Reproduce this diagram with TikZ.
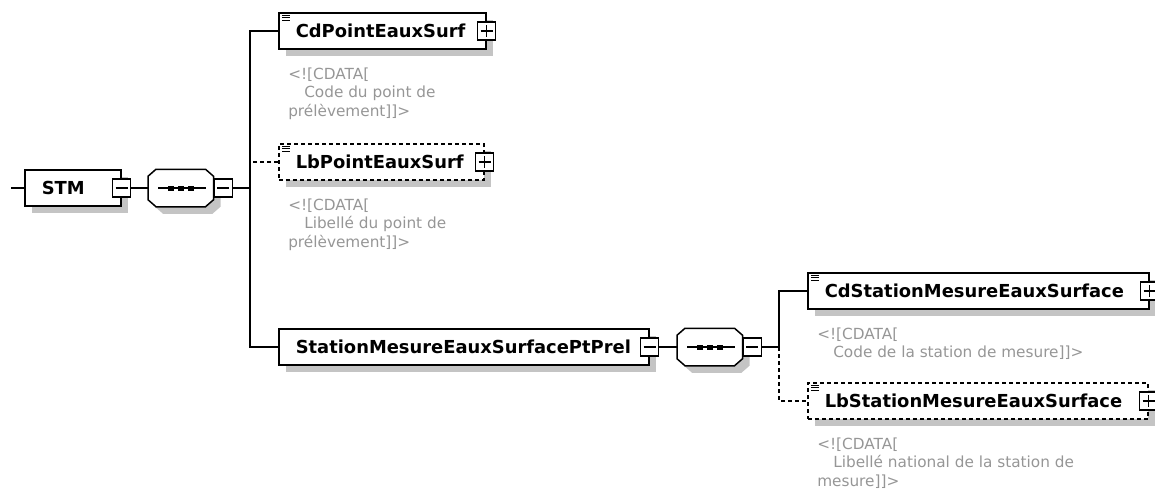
\documentclass[tikz,border=0pt]{standalone}
\usepackage{fontspec}
\setmainfont{DejaVu Sans}
\usetikzlibrary{calc, shadows}

\definecolor{notegray}{RGB}{150,150,150}
\definecolor{shadowgray}{RGB}{196,196,196}

\begin{document}
\begin{tikzpicture}[x=1pt, y=-1pt, line width=1.5pt,
  elem/.style={draw, fill=white, anchor=west, minimum height=36pt, inner xsep=17pt, inner ysep=0pt, align=left,
    font=\fontsize{17.9}{20}\selectfont\bfseries,
    drop shadow={shadow xshift=7pt, shadow yshift=-7pt, fill=shadowgray, opacity=1}},
  optelem/.style={elem, dash pattern=on 4pt off 3pt},
  note/.style={anchor=north west, inner sep=0pt, align=left, text=notegray, font=\fontsize{15.3}{18.5}\selectfont},
  seq/.style={anchor=west, minimum width=64pt, minimum height=36pt, inner sep=0pt},
  oct/.style={insert path={([xshift=8pt]#1.north west) -- ([xshift=-8pt]#1.north east) -- ([yshift=-7pt]#1.north east)
    -- ([yshift=7pt]#1.south east) -- ([xshift=-8pt]#1.south east) -- ([xshift=8pt]#1.south west)
    -- ([yshift=7pt]#1.south west) -- ([yshift=-7pt]#1.north west) -- cycle}},
  boxbase/.style={draw, fill=white, minimum width=18pt, minimum height=18pt, inner sep=0pt, line width=1.3pt},
  minusbox/.style={boxbase,
    path picture={\draw ([xshift=3pt]path picture bounding box.west) -- ([xshift=-3pt]path picture bounding box.east);}},
  plusbox/.style={boxbase,
    path picture={\draw ([xshift=3pt]path picture bounding box.west) -- ([xshift=-3pt]path picture bounding box.east);
      \draw ([yshift=-3pt]path picture bounding box.north) -- ([yshift=3pt]path picture bounding box.south);}}]
\useasboundingbox (0,0) rectangle (1155,490);

% elements
\node[elem, text width=62pt] (stm) at (24,188) {STM};
\node[elem, text width=173pt] (cdpt) at (278,31) {CdPointEauxSurf};
\node[optelem, text width=171pt] (lbpt) at (278,162) {LbPointEauxSurf};
\node[elem, text width=336pt] (station) at (278,347) {StationMesureEauxSurfacePtPrel};
\node[elem, text width=307pt] (cdst) at (807,291) {CdStationMesureEauxSurface};
\node[optelem, text width=306pt] (lbst) at (807,401) {LbStationMesureEauxSurface};

% sequences
\node[seq] (seqa) at (148,188) {};
\node[seq] (seqb) at (677,347) {};
\foreach \s in {seqa, seqb} {
  \fill[shadowgray, transform canvas={xshift=7pt, yshift=-7pt}, oct=\s];
  \draw[fill=white, oct=\s];
  \draw ([xshift=10pt]\s.west) -- ([xshift=-8pt]\s.east);
  \foreach \d in {-10,0,10}
    \fill ([shift={(\d-3,-2.5)}]\s.center) rectangle ++(6,5);
}

% expand boxes
\node[minusbox] (stmminus) at (stm.east) {};
\node[minusbox] (stationminus) at (station.east) {};
\node[minusbox, anchor=west] (seqaminus) at (seqa.east) {};
\node[minusbox, anchor=west] (seqbminus) at (seqb.east) {};
\node[plusbox] (cdptplus) at (cdpt.east) {};
\node[plusbox] (lbptplus) at (lbpt.east) {};
\node[plusbox] (cdstplus) at (cdst.east) {};
\node[plusbox] (lbstplus) at (lbst.east) {};

% doc icons
\foreach \e in {cdpt, lbpt, cdst, lbst}
  \foreach \k in {0,1,2}
    \draw[line width=1pt] ([shift={(4,3+2.5*\k)}]\e.north west) -- ++(8,0);

% annotations
\node[note] (cdptnote) at ([shift={(9.5,17)}]cdpt.south west) {<![CDATA[\\\hspace*{16pt}Code du point de\\prélèvement]]>};
\node[note] (lbptnote) at ([shift={(9.5,17)}]lbpt.south west) {<![CDATA[\\\hspace*{16pt}Libellé du point de\\prélèvement]]>};
\node[note] (cdstnote) at ([shift={(9.5,17)}]cdst.south west) {<![CDATA[\\\hspace*{16pt}Code de la station de mesure]]>};
\node[note] (lbstnote) at ([shift={(9.5,17)}]lbst.south west) {<![CDATA[\\\hspace*{16pt}Libellé national de la station de\\mesure]]>};

% connectors
\coordinate (stmin) at (11,188);
\coordinate (ja) at (250,188);
\coordinate (jb) at (779,347);
\draw (stmin) -- (stm.west);
\draw (stmminus.east) -- (seqa.west);
\draw[dash pattern=on 4pt off 3pt] (lbpt.west) -- (lbpt.west -| ja);
\draw (seqaminus.east) -- (ja) |- (cdpt.west);
\draw (ja) |- (station.west);
\draw (stationminus.east) -- (seqb.west);
\draw (seqbminus.east) -- (jb) |- (cdst.west);
\draw[dash pattern=on 4pt off 3pt] (jb) |- (lbst.west);
\end{tikzpicture}
\end{document}
